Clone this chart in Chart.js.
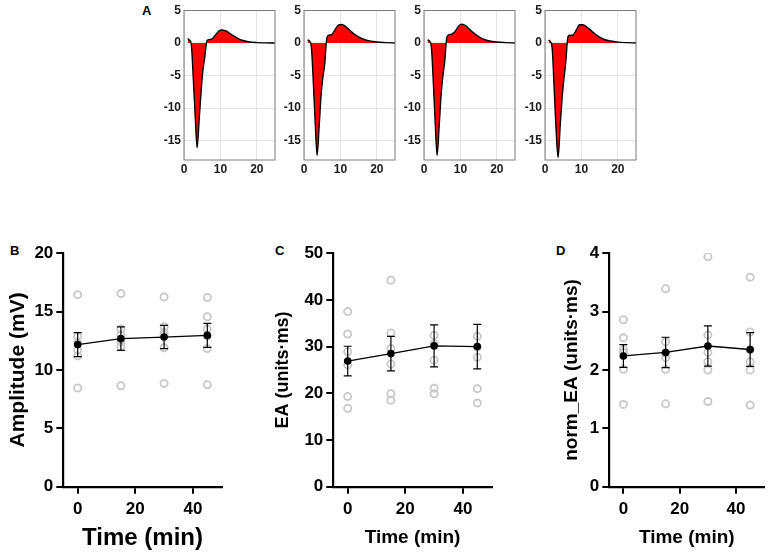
<!DOCTYPE html>
<html>
<head>
<meta charset="utf-8">
<script src="https://cdn.jsdelivr.net/npm/chart.js@4.4.1/dist/chart.umd.min.js"></script>
<style>
  body { margin: 0; background: #fff; width: 770px; height: 553px; position: relative; overflow: hidden; font-family: "Liberation Sans", Arial, sans-serif; }
  canvas { position: absolute; }
  .lbl { position: absolute; font-weight: bold; line-height: 1; color: #000; }
</style>
</head>
<body>
<div class="lbl" style="left:142px; top:4px; font-size:13px">A</div>
<div class="lbl" style="left:10px; top:244px; font-size:13px">B</div>
<div class="lbl" style="left:275px; top:244px; font-size:13px">C</div>
<div class="lbl" style="left:556px; top:244px; font-size:13px">D</div>

<canvas id="wave1" width="127" height="180" style="left:150px; top:0"></canvas>
<canvas id="wave2" width="127" height="180" style="left:269.5px; top:0"></canvas>
<canvas id="wave3" width="127" height="180" style="left:390px; top:0"></canvas>
<canvas id="wave4" width="127" height="180" style="left:510.5px; top:0"></canvas>

<canvas id="ampChart" width="230" height="313" style="left:0; top:240px"></canvas>
<canvas id="eaChart" width="240" height="313" style="left:260px; top:240px"></canvas>
<canvas id="normChart" width="240" height="313" style="left:530px; top:240px"></canvas>

<script>
// Panel A: waveform traces (time in ms)
const waveTime = [1, 1.5, 2, 2.6, 3.1, 3.6, 4.2, 4.7, 5.2, 5.7, 6.2, 6.6, 7.6, 8.6, 9.5, 10.4, 11.5, 12.5, 13.5, 15, 16.5, 18, 20, 22.5, 25];
const wave1 = [0.7, 0.45, -0.2, -6, -11.5, -16.1, -11.5, -7.5, -4.2, -2.2, 0.1, 0.5, 0.6, 1.2, 1.8, 2.0, 1.85, 1.5, 1.15, 0.65, 0.35, 0.15, 0.06, 0.02, 0];
const wave2 = [0.5, 0.3, -0.5, -6.5, -12.5, -17.3, -12.5, -8, -5.2, -3.2, 0.5, 1.15, 1.3, 2.1, 2.8, 2.85, 2.5, 2.0, 1.5, 0.95, 0.55, 0.32, 0.15, 0.06, 0];
const wave3 = [0.5, 0.3, -0.5, -6.5, -12.5, -17.3, -12.5, -8, -5, -2.8, 0.6, 1.2, 1.35, 1.8, 2.6, 2.9, 2.65, 2.1, 1.6, 1.0, 0.55, 0.3, 0.15, 0.06, 0];
const wave4 = [0.45, 0.2, -1.0, -8, -14, -17.6, -12.5, -8.5, -5.5, -3.0, 0.6, 1.15, 1.2, 2.0, 2.8, 2.8, 2.45, 2.0, 1.5, 0.9, 0.5, 0.3, 0.14, 0.05, 0];
const waveXTicks = [0, 10, 20];
const waveYTicks = [-15, -10, -5, 0, 5];

// Panels B-D: time course
const timePoints = [0, 15, 30, 45];
const timeTicks = [0, 20, 40];

const ampPoints = [
  [16.45, 12.9, 12.3, 11.7, 11.2, 8.45],
  [16.54, 13.5, 13.0, 12.4, 12.0, 8.65],
  [16.25, 13.7, 13.2, 13.0, 11.9, 8.85],
  [16.2, 14.56, 13.52, 12.9, 11.83, 8.73]
];
const ampMean = [12.17, 12.68, 12.82, 12.96];
const ampSem = [1.03, 1.01, 0.99, 1.03];

const eaPoints = [
  [37.5, 32.7, 28.9, 26.1, 19.3, 16.8],
  [44.2, 32.9, 29.6, 26.3, 19.9, 18.5],
  [52, 32.4, 30.6, 27.1, 21.1, 19.9],
  [52.5, 32.2, 29.9, 27.7, 21.0, 17.9]
];
const eaMean = [26.9, 28.5, 30.15, 30.0];
const eaSem = [3.17, 3.7, 4.5, 4.75];

const normPoints = [
  [2.86, 2.55, 2.35, 2.3, 2.01, 1.41],
  [3.39, 2.48, 2.29, 2.21, 2.01, 1.42],
  [3.94, 2.6, 2.3, 2.14, 2.0, 1.46],
  [3.59, 2.65, 2.34, 2.14, 2.0, 1.40]
];
const normMean = [2.24, 2.30, 2.41, 2.35];
const normSem = [0.195, 0.26, 0.345, 0.29];

const FONT = '"Liberation Sans", Arial, sans-serif';

// box round the plot area (matlab style)
const framePlugin = {
  id: 'frame',
  afterDraw(chart) {
    const a = chart.chartArea, ctx = chart.ctx;
    ctx.save();
    ctx.strokeStyle = '#7a7a7a';
    ctx.lineWidth = 1;
    ctx.strokeRect(a.left, a.top, a.right - a.left, a.bottom - a.top);
    ctx.restore();
  }
};

// error bars on the mean series
const errorBarPlugin = {
  id: 'errorBars',
  afterDatasetsDraw(chart, args, opts) {
    const meta = chart.getDatasetMeta(0);
    const yScale = chart.scales.y;
    const ctx = chart.ctx;
    ctx.save();
    ctx.strokeStyle = '#000';
    ctx.lineWidth = 1.2;
    meta.data.forEach((pt, i) => {
      const m = chart.data.datasets[0].data[i].y;
      const top = yScale.getPixelForValue(m + opts.sem[i]);
      const bot = yScale.getPixelForValue(m - opts.sem[i]);
      ctx.beginPath();
      ctx.moveTo(pt.x, top); ctx.lineTo(pt.x, bot);
      ctx.moveTo(pt.x - 4, top); ctx.lineTo(pt.x + 4, top);
      ctx.moveTo(pt.x - 4, bot); ctx.lineTo(pt.x + 4, bot);
      ctx.stroke();
    });
    ctx.restore();
  }
};

function renderWave(id, values) {
  const ctx = document.getElementById(id);
  const tickFont = { family: FONT, size: 12, weight: 'bold' };
  new Chart(ctx, {
    type: 'line',
    data: {
      datasets: [{
        data: waveTime.map((t, i) => ({ x: t, y: values[i] })),
        borderColor: '#000',
        borderWidth: 1.4,
        backgroundColor: '#ff0000',
        fill: 'origin',
        pointRadius: 0,
        cubicInterpolationMode: 'monotone'
      }]
    },
    options: {
      responsive: false,
      animation: false,
      layout: { padding: { top: 10.5, right: 2, left: 0, bottom: 0 } },
      plugins: { legend: { display: false }, tooltip: { enabled: false } },
      scales: {
        x: {
          type: 'linear', min: 0, max: 25,
          afterBuildTicks: s => { s.ticks = waveXTicks.map(v => ({ value: v })); },
          afterFit: s => { s.height = 20; },
          grid: { color: '#e4e4e4', drawTicks: false },
          border: { display: false },
          ticks: { font: tickFont, color: '#1a1a1a', padding: 2, maxRotation: 0 }
        },
        y: {
          type: 'linear', min: -18, max: 5,
          afterBuildTicks: s => { s.ticks = waveYTicks.map(v => ({ value: v })); },
          afterFit: s => { s.width = 34; },
          grid: { color: '#e4e4e4', drawTicks: false },
          border: { display: false },
          ticks: { font: tickFont, color: '#1a1a1a', padding: 3 }
        }
      }
    },
    plugins: [framePlugin]
  });
}

function renderPanel(id, means, sems, points, yMax, yStep, yTitle, cfg) {
  const ctx = document.getElementById(id);
  const axisGrid = { drawOnChartArea: false, drawTicks: true, tickLength: 7, tickColor: '#000', tickWidth: 2, color: '#000', lineWidth: 2 };
  const tickFont = { family: FONT, size: 17, weight: 'bold' };
  new Chart(ctx, {
    type: 'line',
    data: {
      datasets: [
        {
          data: timePoints.map((t, i) => ({ x: t, y: means[i] })),
          borderColor: '#000', borderWidth: 1.3,
          pointRadius: 3.8, pointBackgroundColor: '#000', pointBorderColor: '#000', pointBorderWidth: 0,
          tension: 0
        },
        {
          type: 'scatter',
          data: timePoints.flatMap((t, i) => points[i].map(v => ({ x: t, y: v }))),
          showLine: false,
          pointRadius: 3.6, pointBorderWidth: 1.8,
          pointBorderColor: '#c8c8c8', pointBackgroundColor: 'rgba(0,0,0,0)',
          clip: 0
        }
      ]
    },
    options: {
      responsive: false,
      animation: false,
      layout: { padding: { top: 10, right: cfg.padRight, left: 0, bottom: 0 } },
      plugins: { legend: { display: false }, tooltip: { enabled: false }, errorBars: { sem: sems } },
      scales: {
        x: {
          type: 'linear', min: -5, max: 50,
          afterBuildTicks: s => { s.ticks = timeTicks.map(v => ({ value: v })); },
          afterFit: s => { s.height = 66.3; },
          grid: axisGrid,
          border: { display: true, color: '#000', width: 2.2 },
          ticks: { font: tickFont, color: '#000', padding: 5, maxRotation: 0 },
          title: { display: true, text: 'Time (min)', color: '#000', font: { family: FONT, size: cfg.xTitleSize, weight: 'bold' }, padding: { top: 0, bottom: cfg.xTitlePad } }
        },
        y: {
          type: 'linear', min: 0, max: yMax,
          ticks: { stepSize: yStep, font: tickFont, color: '#000', padding: 3 },
          afterFit: s => { s.width = cfg.yWidth; },
          grid: axisGrid,
          border: { display: true, color: '#000', width: 2.2 },
          title: { display: true, text: yTitle, color: '#000', font: { family: FONT, size: cfg.yTitleSize, weight: 'bold' }, padding: { top: cfg.yTitlePad, bottom: 0 } }
        }
      }
    },
    plugins: [errorBarPlugin]
  });
}

renderWave('wave1', wave1);
renderWave('wave2', wave2);
renderWave('wave3', wave3);
renderWave('wave4', wave4);

renderPanel('ampChart', ampMean, ampSem, ampPoints, 20, 5, 'Amplitude (mV)',
  { yWidth: 63.3, padRight: 8.3, xTitleSize: 24, xTitlePad: 0, yTitleSize: 21, yTitlePad: 5.7 });
renderPanel('eaChart', eaMean, eaSem, eaPoints, 50, 10, 'EA (units·ms)',
  { yWidth: 73.3, padRight: 8.3, xTitleSize: 19, xTitlePad: 3.6, yTitleSize: 18, yTitlePad: 12.2 });
renderPanel('normChart', normMean, normSem, normPoints, 4, 1, 'norm_EA (units·ms)',
  { yWidth: 79.3, padRight: 3.2, xTitleSize: 19, xTitlePad: 3.6, yTitleSize: 19, yTitlePad: 30.3 });
</script>
</body>
</html>
